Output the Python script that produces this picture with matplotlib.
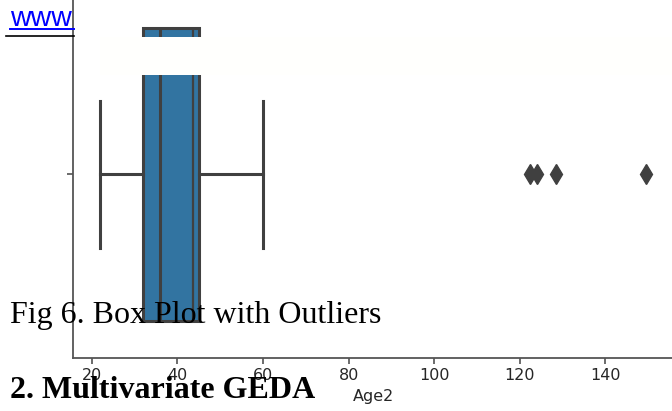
import matplotlib.pyplot as plt
from matplotlib.patches import Rectangle
from matplotlib.lines import Line2D

# box plot values (Age2)
age_q1 = 32
age_median = 36
age_q3 = 45
age_q3_inner = 43.6
age_whisker_low = 22
age_whisker_high = 60
age_outliers = [122.5, 124, 128.5, 149.5]
x_label = "Age2"

# surrounding document text
link_text = "www"
caption_text = "Fig 6. Box Plot with Outliers"
heading_text = "2. Multivariate GEDA"

box_color = "#3274a1"
line_color = "#404040"

W, H = 672, 411
fig = plt.figure(figsize=(W / 100, H / 100), dpi=100)
fig.patch.set_facecolor("white")

# axes runs past the top and right edge of the crop
ax = fig.add_axes([73.2 / W, 53.5 / H, 600 / W, 366 / H])

stats = [{
    "q1": age_q1, "med": age_median, "q3": age_q3,
    "whislo": age_whisker_low, "whishi": age_whisker_high,
    "fliers": age_outliers,
}]
lw = 2.2
ax.bxp(stats, positions=[0], widths=0.8, capwidths=0.4,
       orientation="horizontal", patch_artist=True, manage_ticks=False,
       boxprops=dict(facecolor=box_color, edgecolor=line_color, linewidth=lw),
       medianprops=dict(color=line_color, linewidth=lw),
       whiskerprops=dict(color=line_color, linewidth=lw),
       capprops=dict(color=line_color, linewidth=lw),
       flierprops=dict(marker="d", markersize=10.5, markerfacecolor=line_color,
                       markeredgecolor=line_color, linestyle="none"))
ax.vlines(age_q3_inner, -0.4, 0.4, color=line_color, linewidth=1.6)

lo, hi = age_whisker_low, max(age_outliers)
span = hi - lo
ax.set_xlim(lo - 0.05 * span, hi + 0.05 * span)
ax.set_ylim(0.5, -0.5)
ax.set_yticks([0])
ax.set_yticklabels([""])
ax.set_xticks([20, 40, 60, 80, 100, 120, 140])
ax.tick_params(axis="both", length=4.3, width=1.1, color="#444444",
               labelsize=11.5, labelcolor="#262626", pad=3.5)
ax.set_xlabel(x_label, fontsize=11.5, color="#262626", labelpad=4)
for side in ["top", "right"]:
    ax.spines[side].set_visible(False)
for side in ["left", "bottom"]:
    ax.spines[side].set_color("#555555")
    ax.spines[side].set_linewidth(1.3)

# blank strip from the page layered over the figure
fig.patches.append(Rectangle((100 / W, 1 - 75 / H), (W - 100) / W, 38 / H,
                             transform=fig.transFigure, facecolor="#fffffd",
                             edgecolor="none", zorder=5))

# link and rules at the top left
fig.text(10 / W, 1 - 26.5 / H, link_text, color="#0000ff", fontsize=20.5,
         family="Liberation Sans", zorder=6)
fig.add_artist(Line2D([10 / W, 74 / W], [1 - 29 / H, 1 - 29 / H],
                      color="#0000ff", linewidth=1.4, zorder=6))
fig.add_artist(Line2D([6 / W, 74 / W], [1 - 36 / H, 1 - 36 / H],
                      color="black", linewidth=1.2, zorder=6))

fig.text(10 / W, 1 - 323 / H, caption_text, fontsize=23, family="Liberation Serif",
         color="black", zorder=6)
fig.text(10 / W, 1 - 398 / H, heading_text, fontsize=23, family="Liberation Serif",
         fontweight="bold", color="black", zorder=6)

fig.savefig("out.png", dpi=100)
